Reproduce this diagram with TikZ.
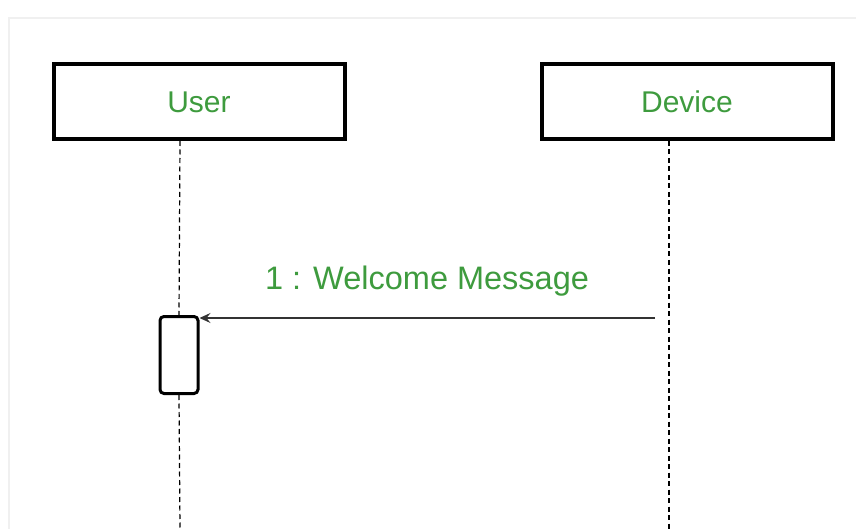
\documentclass[tikz,border=0pt]{standalone}
\usepackage{fontspec}
\setmainfont{Liberation Sans}
\usetikzlibrary{arrows.meta}
\definecolor{txtgreen}{RGB}{62,155,62}
\tikzset{
  actor/.style={draw=black, line width=4pt, minimum width=291pt, minimum height=75pt, inner sep=0pt, text=txtgreen, font=\fontsize{30}{36}\selectfont},
  lifeline/.style={draw=black, line width=1.2pt, dash pattern=on 5pt off 3.5pt},
  activation/.style={draw=black, line width=3pt, rounded corners=4pt, minimum width=38pt, minimum height=77pt, inner sep=0pt},
  msg/.style={draw=black!80, line width=1.4pt, -{Stealth[length=11pt,width=10pt,inset=4pt]}},
  msglabel/.style={text=txtgreen, font=\fontsize{32.5}{38}\selectfont, inner sep=0pt},
  frame/.style={draw=black!6, line width=1.5pt}
}
\begin{document}
\begin{tikzpicture}[x=1pt,y=-1pt]
\useasboundingbox (0,0) rectangle (856,529);
\draw[frame] (9,529) -- (9,18) -- (856,18);
\node[actor] (user) at (199,102) {User};
\node[actor] (device) at (687,102) {Device};
\node[activation] (act) at (179,355) {};
\coordinate (ut) at (180,141);
\coordinate (ub) at (180,529);
\coordinate (dt) at (669,141);
\coordinate (db) at (669,529);
\coordinate (mstart) at (655,318);
\draw[lifeline] (ut) -- (act.north);
\draw[lifeline] (act.south) -- (ub);
\draw[lifeline] (dt) -- (db);
\draw[msg] (mstart) -- (act.north east |- mstart);
\node[msglabel] (lbl) at (427,281) {1 : Welcome Message};
\end{tikzpicture}
\end{document}
